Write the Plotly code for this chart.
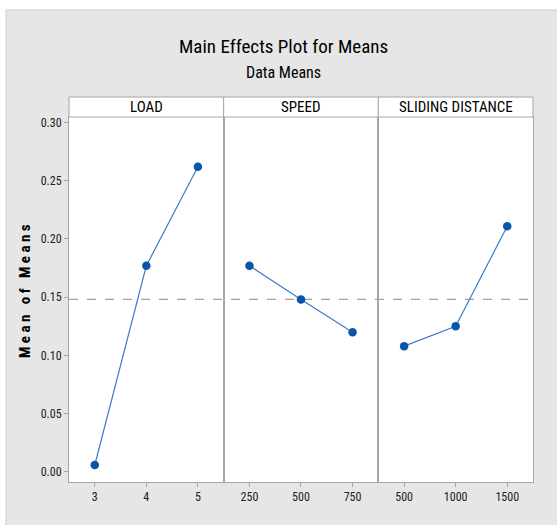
import plotly.graph_objects as go
from plotly.subplots import make_subplots

factors = ["LOAD", "SPEED", "SLIDING DISTANCE"]
load_levels = ["3", "4", "5"]
load_means = [0.006, 0.177, 0.262]
speed_levels = ["250", "500", "750"]
speed_means = [0.177, 0.148, 0.120]
dist_levels = ["500", "1000", "1500"]
dist_means = [0.108, 0.125, 0.211]
y_ticks = [0.00, 0.05, 0.10, 0.15, 0.20, 0.25, 0.30]

levels = [load_levels, speed_levels, dist_levels]
means = [load_means, speed_means, dist_means]
all_vals = load_means + speed_means + dist_means
grand_mean = sum(all_vals) / len(all_vals)

W, H = 557, 525
ML, MR, MT, MB = 69, 24, 97, 43
PW, PH = W - ML - MR, H - MT - MB
HEADER = 20

def px(x):
    return (x - ML) / PW

def py(y):
    return (H - MB - y) / PH

FONT = "Roboto Condensed, Asap Condensed, Sofia Sans Semi Condensed, DejaVu Sans Condensed, sans-serif"
AXCOL = "#a6a6a6"
BG = "#e6e6e6"

fig = make_subplots(rows=1, cols=3, shared_yaxes=True, horizontal_spacing=0)

for i, (lv, mv) in enumerate(zip(levels, means)):
    fig.add_trace(go.Scatter(
        x=lv, y=mv, mode="lines+markers",
        line=dict(color="#3d7cc9", width=1.2),
        marker=dict(color="#0a55a8", size=8.5, symbol="circle"),
        showlegend=False, hoverinfo="x+y",
    ), row=1, col=i + 1)
    fig.update_xaxes(
        type="category", range=[-0.5, 2.5],
        showline=True, mirror=True, linecolor=AXCOL, linewidth=1,
        ticks="outside", ticklen=4, tickcolor=AXCOL,
        showgrid=False, zeroline=False,
        tickfont=dict(family=FONT, size=12, color="#222"),
        row=1, col=i + 1,
    )

ytop = py(MT + HEADER)
for k in ["yaxis", "yaxis2", "yaxis3"]:
    fig.layout[k].domain = [0, ytop]
fig.update_yaxes(
    range=[-0.0086, 0.3047], tickvals=y_ticks, tickformat=".2f",
    showline=True, mirror=True, linecolor=AXCOL, linewidth=1,
    showgrid=False, zeroline=False,
    tickfont=dict(family=FONT, size=12, color="#222"),
)
fig.update_yaxes(ticks="outside", ticklen=4, tickcolor=AXCOL, row=1, col=1)

shapes = []
shapes.append(dict(type="rect", xref="paper", yref="paper", x0=px(0), x1=px(W), y0=py(10), y1=py(0),
                   fillcolor="white", line=dict(width=0), layer="below"))
shapes.append(dict(type="rect", xref="paper", yref="paper", x0=px(0), x1=px(6), y0=py(H), y1=py(0),
                   fillcolor="white", line=dict(width=0), layer="below"))
shapes.append(dict(type="line", xref="paper", yref="paper", x0=px(6), x1=px(W), y0=py(10), y1=py(10),
                   line=dict(color="#cccccc", width=1)))
shapes.append(dict(type="line", xref="paper", yref="paper", x0=px(6), x1=px(6), y0=py(10), y1=py(H),
                   line=dict(color="#cccccc", width=1)))
for i, name in enumerate(factors):
    x0, x1 = i / 3, (i + 1) / 3
    shapes.append(dict(type="rect", xref="paper", yref="paper", x0=x0, x1=x1, y0=ytop, y1=1,
                       fillcolor="white", line=dict(color=AXCOL, width=1)))
    fig.add_annotation(x=(x0 + x1) / 2, y=(ytop + 1) / 2, xref="paper", yref="paper",
                       xanchor="center", yanchor="middle",
                       text=name, showarrow=False,
                       font=dict(family=FONT, size=15, color="#000"))
shapes.append(dict(type="line", xref="paper", yref="y", x0=0, x1=1, y0=grand_mean, y1=grand_mean,
                   line=dict(color="#a0a0a0", width=1.2, dash="dash"), layer="below"))
fig.update_layout(shapes=shapes)

fig.add_annotation(x=px(283), y=py(46), xref="paper", yref="paper", xanchor="center", yanchor="middle",
                   text="Main Effects Plot for Means",
                   showarrow=False, font=dict(family=FONT, size=19, color="#000"))
fig.add_annotation(x=px(283), y=py(72), xref="paper", yref="paper", xanchor="center", yanchor="middle",
                   text="Data Means",
                   showarrow=False, font=dict(family=FONT, size=16, color="#000"))
S = "\u00a0"
label = S.join("Mean") + S * 3 + S.join("of") + S * 3 + S.join("Means")
fig.add_annotation(x=px(25), y=py(291), xref="paper", yref="paper", xanchor="center", yanchor="middle",
                   text="<b>" + label + "</b>", textangle=-90,
                   showarrow=False, font=dict(family=FONT, size=15, color="#000"))

fig.update_layout(
    width=W, height=H,
    margin=dict(l=ML, r=MR, t=MT, b=MB, pad=0),
    paper_bgcolor=BG, plot_bgcolor="white",
    showlegend=False,
)

fig.write_html("out.html", config={"displayModeBar": False},
               post_script="document.body.style.margin='0';document.body.style.padding='0';")
